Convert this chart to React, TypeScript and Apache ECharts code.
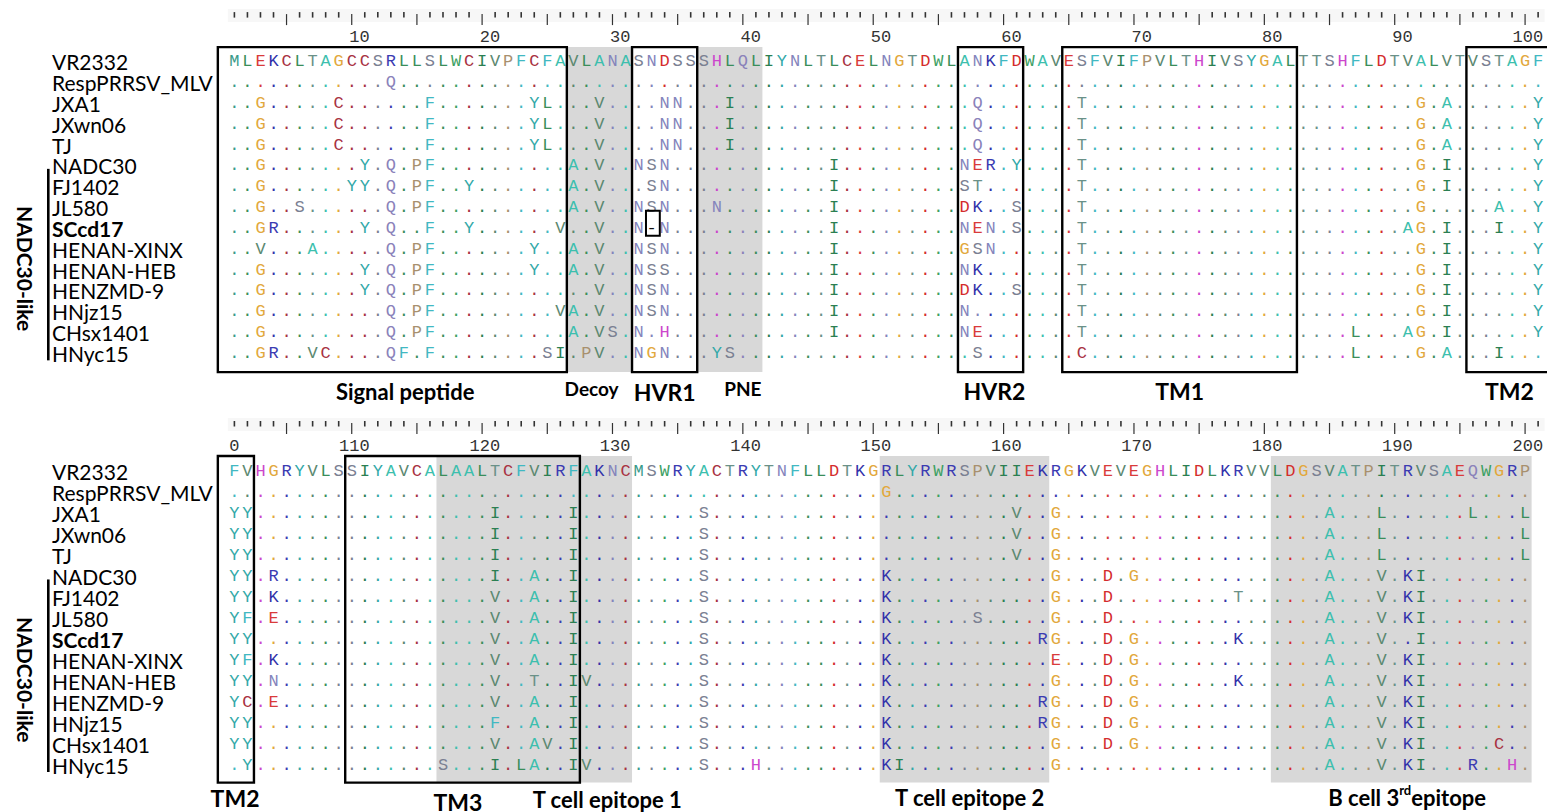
import React, { useEffect, useRef } from "react";
import * as echarts from "echarts";

// ---------------- data ----------------
const strains = [
  "VR2332", "RespPRRSV_MLV", "JXA1", "JXwn06", "TJ", "NADC30", "FJ1402", "JL580",
  "SCcd17", "HENAN-XINX", "HENAN-HEB", "HENZMD-9", "HNjz15", "CHsx1401", "HNyc15",
];
const boldStrains = ["SCcd17"];
const groupFirst = "NADC30";
const groupLast = "HNyc15";
const groupName = "NADC30-like";

// VR2332 GP5 reference, residues 1-200
const reference =
  "MLEKCLTAGCCSRLLSLWCIVPFCFAVLANASNDSSSHLQLIYNLTLCELNGTDWLANKFDWAVESFVIFPVLTHIVSYGALTTSHFLDTVALVTVSTAG" +
  "FVHGRYVLSSIYAVCALAALTCFVIRFAKNCMSWRYACTRYTNFLLDTKGRLYRWRSPVIIEKRGKVEVEGHLIDLKRVVLDGSVATPITRVSAEQWGRP";

// substitutions relative to VR2332 (residue + amino acid), one string per strain
const substitutions = [
  "",
  "13Q 151G",
  "3G 9C 16F 24Y 25L 29V 34N 35N 39I 58Q 66T 92G 94A 101Y 102Y 121I 127I 137S 161V 164G 185A 189L 196L 200L",
  "3G 9C 16F 24Y 25L 29V 34N 35N 39I 58Q 66T 92G 94A 101Y 102Y 121I 127I 137S 161V 164G 185A 189L 200L",
  "3G 9C 16F 24Y 25L 29V 34N 35N 39I 58Q 66T 92G 94A 101Y 102Y 121I 127I 137S 161V 164G 185A 189L 200L",
  "3G 11Y 13Q 15P 16F 27A 29V 32N 33S 34N 47I 57N 58E 59R 61Y 66T 92G 94I 101Y 102Y 104R 121I 124A 127I 137S 151K 164G 168D 170G 185A 189V 191K 192I",
  "3G 10Y 11Y 13Q 15P 16F 19Y 27A 29V 33S 34N 47I 57S 58T 66T 92G 94I 101Y 102Y 104K 121V 124A 127I 137S 151K 164G 168D 178T 185A 189V 191K 192I",
  "3G 6S 13Q 15P 16F 27A 29V 32N 33S 34N 38N 47I 57D 58K 61S 66T 92G 98A 101Y 102F 104E 121V 124A 127I 137S 151K 158S 164G 168D 185A 189V 191K 192I",
  "3G 4R 11Y 13Q 16F 19Y 26V 29V 32N 33- 34N 47I 57N 58E 59N 61S 66T 91A 92G 94I 98I 101Y 102Y 121V 124A 127I 137S 151K 163R 164G 168D 170G 178K 185A 189V 192I",
  "3V 7A 13Q 15P 16F 24Y 27A 29V 32N 33S 34N 47I 57G 58S 59N 66T 92G 94I 101Y 102F 104K 121V 124A 127I 137S 151K 164E 168D 170G 185A 189V 191K 192I",
  "3G 11Y 13Q 15P 16F 24Y 27A 29V 32N 33S 34S 47I 57N 58K 66T 92G 94I 101Y 102Y 104N 121V 124T 127I 128V 137S 151K 164G 168D 170G 178K 185A 189V 191K 192I",
  "3G 11Y 13Q 15P 16F 29V 32N 33S 34N 47I 57D 58K 61S 66T 92G 94I 101Y 102C 104E 121V 124A 127I 137S 151K 163R 164G 168D 170G 185A 189V 191K 192I",
  "3G 13Q 15P 16F 26V 27A 29V 32N 33S 34N 47I 57N 66T 92G 94I 101Y 102Y 121F 124A 127I 137S 151K 163R 164G 168D 170G 185A 189V 191K 192I",
  "3G 13Q 15P 16F 27A 29V 30S 32N 34H 47I 57N 58E 66T 87L 91A 92G 94I 101Y 102Y 121V 124A 125V 127I 137S 151K 164G 168D 170G 185A 189V 191K 192I 198C",
  "3G 4R 7V 8C 13Q 14F 16F 25S 26I 28P 29V 32N 33G 34N 38Y 39S 58S 66C 87L 92G 94A 98I 102Y 117S 121I 123L 124A 127I 128V 137S 141H 151K 152I 164G 185A 189V 191K 192I 196R 199H",
];

// annotated regions (residue ranges)
const regionNames = ["Signal peptide", "Decoy", "HVR1", "PNE", "HVR2", "TM1", "TM2", "TM3", "T cell epitope 1", "T cell epitope 2", "B cell 3rd epitope"];
const regionStart = [1, 27, 32, 37, 57, 65, 96, 110, 117, 151, 181];
const regionEnd = [26, 31, 36, 41, 61, 82, 102, 127, 131, 163, 200];
const regionKind = ["box", "shade", "box", "shade", "box", "box", "box", "box", "shade", "shade", "shade"];

// ruler tick labels
const topRulerLabels = [10, 20, 30, 40, 50, 60, 70, 80, 90, 100];
const bottomRulerLabels = [100, 110, 120, 130, 140, 150, 160, 170, 180, 190, 200];

// ---------------- styles / layout ----------------
const AA_COLORS: Record<string, string> = {
  A: "#3dbfae", R: "#3b3bb2", N: "#8484bc", D: "#d42c2c", C: "#a83242",
  Q: "#8a82ba", E: "#d93b3b", G: "#e2a83c", H: "#cc46cc", I: "#2b7f52",
  L: "#3a8e5a", K: "#3232aa", M: "#3a9a8a", F: "#42b8c2", P: "#a8906e",
  S: "#7a8092", T: "#6a9188", W: "#3ca062", Y: "#32a8a8", V: "#5b8870",
  "-": "#111111",
};
const SEQ_FONT = "Liberation Mono";
const SEQ_SIZE = 17;
const LABEL_FONT = "Lato";

const panels = [
  { offset: 0, firstCol: 1, lastCol: 101, gridTop: 47.1, gridHeight: 325, yMin: -0.7, yMax: 14.9,
    labelAt: { "Signal peptide": 14.1, Decoy: 28.4, HVR1: 34.0, PNE: 40.0, HVR2: 59.3, TM1: 73.5, TM2: 98.8 } as Record<string, number>,
    labelDy: { "Signal peptide": 19, Decoy: 16, HVR1: 20, PNE: 16, HVR2: 19, TM1: 19, TM2: 19 } as Record<string, number>,
    labelSize: { "Signal peptide": 22, Decoy: 19, HVR1: 23, PNE: 19, HVR2: 23, TM1: 23, TM2: 23 } as Record<string, number>,
  },
  { offset: 100, firstCol: 1, lastCol: 101, gridTop: 456, gridHeight: 326.6, yMin: -0.75, yMax: 14.84,
    labelAt: { TM2: 1.05, TM3: 18.15, "T cell epitope 1": 29.6, "T cell epitope 2": 57.4, "B cell 3rd epitope": 90.95 } as Record<string, number>,
    labelDy: { TM2: 15.5, TM3: 19.5, "T cell epitope 1": 16.5, "T cell epitope 2": 14.5, "B cell 3rd epitope": 14.5 } as Record<string, number>,
    labelSize: { TM2: 23, TM3: 23, "T cell epitope 1": 22, "T cell epitope 2": 22, "B cell 3rd epitope": 22 } as Record<string, number>,
  },
];
const GRID_LEFT = 214.84;
const GRID_WIDTH = 1329.8;
const X_MIN = -0.5;
const X_MAX = 101.5;

function parseSubs(s: string): Map<number, string> {
  const m = new Map<number, string>();
  s.split(" ").filter(Boolean).forEach((tok) => {
    const r = /^(\d+)(.)$/.exec(tok);
    if (r) m.set(Number(r[1]), r[2]);
  });
  return m;
}

type Cell = { col: number; row: number; ch: string; color: string };

function buildCells(offset: number, firstCol: number, lastCol: number): Cell[] {
  const maps = substitutions.map(parseSubs);
  const cells: Cell[] = [];
  for (let col = firstCol; col <= lastCol; col++) {
    const res = offset + col;
    if (res < 1 || res > reference.length) continue;
    const refCh = reference[res - 1];
    for (let row = 0; row < strains.length; row++) {
      const ch = row === 0 ? refCh : maps[row].get(res) ?? ".";
      const key = ch === "." ? refCh : ch;
      cells.push({ col, row, ch, color: AA_COLORS[key] ?? "#000" });
    }
  }
  return cells;
}

function buildOption() {
  const grid: any[] = [];
  const xAxis: any[] = [];
  const yAxis: any[] = [];
  const series: any[] = [];

  panels.forEach((p, gi) => {
    grid.push({ left: GRID_LEFT, top: p.gridTop, width: GRID_WIDTH, height: p.gridHeight, containLabel: false });
    xAxis.push({ gridIndex: gi, type: "value", min: X_MIN, max: X_MAX, show: false });
    yAxis.push({ gridIndex: gi, type: "value", min: p.yMin, max: p.yMax, inverse: true, show: false });

    const base = { type: "custom", coordinateSystem: "cartesian2d", xAxisIndex: gi, yAxisIndex: gi, clip: false, silent: true, encode: { x: 0, y: 1 } };
    const panelFirstRes = p.offset + p.firstCol;
    const panelLastRes = p.offset + p.lastCol;

    const regs = regionNames
      .map((name, i) => ({ name, s: regionStart[i], e: regionEnd[i], kind: regionKind[i] }))
      .filter((r) => r.e >= panelFirstRes && r.s <= Math.min(panelLastRes, reference.length));

    const regEdges = regs.map((r) => {
      const c0 = r.s - p.offset;
      const c1 = r.e - p.offset;
      const x0 = r.s < panelFirstRes || (r.kind === "box" && c0 <= p.firstCol) ? p.firstCol - 1.27 : c0 - 0.5;
      const x1 = c1 + 0.5;
      return { ...r, x0, x1 };
    });

    // ruler background
    series.push({
      ...base, z: 1, data: [[p.firstCol - 0.5, 0, p.lastCol + 0.5]],
      renderItem: (params: any, api: any) => {
        const cs = params.coordSys;
        const a = api.coord([api.value(0), 0])[0];
        const b = api.coord([api.value(2), 0])[0];
        return { type: "rect", shape: { x: a, y: cs.y - 38, width: b - a, height: 13 }, style: { fill: "#f7f7f7" } };
      },
    });

    // shaded regions
    const shades = regEdges.filter((r) => r.kind === "shade");
    series.push({
      ...base, z: 2, data: shades.map((r) => [r.x0, 0, r.x1]),
      renderItem: (params: any, api: any) => {
        const cs = params.coordSys;
        const a = api.coord([api.value(0), 0])[0];
        const b = api.coord([api.value(2), 0])[0];
        return { type: "rect", shape: { x: a, y: cs.y, width: b - a, height: cs.height }, style: { fill: "#d8d8d8" } };
      },
    });

    // ruler ticks and labels
    const labels = gi === 0 ? topRulerLabels : bottomRulerLabels;
    const tickItems: number[][] = [];
    for (let c = p.firstCol; c <= p.lastCol; c++) tickItems.push([c, 0, 1]);
    labels.forEach((lab) => { const c = lab - p.offset; if (c < p.firstCol) tickItems.push([c, 0, 0]); });
    const charW = 0.6 * 17;
    series.push({
      ...base, z: 3, data: tickItems,
      renderItem: (params: any, api: any) => {
        const cs = params.coordSys;
        const c = api.value(0);
        const withTick = api.value(2) === 1;
        const x = api.coord([c, 0])[0];
        const res = c + p.offset;
        const children: any[] = [];
        if (withTick) {
          const major = res % 5 === 0;
          children.push({
            type: "line",
            shape: major ? { x1: x, y1: cs.y - 33, x2: x, y2: cs.y - 22 } : { x1: x, y1: cs.y - 35, x2: x, y2: cs.y - 29.5 },
            style: { stroke: "#333", lineWidth: major ? 1.2 : 1.6 },
          });
        }
        if (labels.indexOf(res) >= 0) {
          let txt = String(res);
          const right = x + 18;
          const rulerLeft = api.coord([p.firstCol - 0.5, 0])[0];
          while (txt.length > 0 && right - txt.length * charW < rulerLeft - 2) txt = txt.slice(1);
          children.push({
            type: "text", x: right, y: cs.y - 9.5,
            style: { text: txt, fill: "#333", fontSize: 17, fontFamily: SEQ_FONT, align: "right", verticalAlign: "middle" },
          });
        }
        return { type: "group", children };
      },
    });

    // residues
    const cells = buildCells(p.offset, p.firstCol, p.lastCol);
    series.push({
      ...base, z: 4, data: cells.map((c) => [c.col, c.row]),
      renderItem: (params: any, api: any) => {
        const cell = cells[params.dataIndex];
        const pt = api.coord([api.value(0), api.value(1)]);
        return {
          type: "text", x: pt[0], y: pt[1],
          style: { text: cell.ch, fill: cell.color, fontSize: SEQ_SIZE, fontFamily: SEQ_FONT, align: "center", verticalAlign: "middle" },
        };
      },
    });

    // boxes
    const boxes = regEdges.filter((r) => r.kind === "box");
    series.push({
      ...base, z: 5, data: boxes.map((r) => [r.x0, 0, r.x1]),
      renderItem: (params: any, api: any) => {
        const cs = params.coordSys;
        const a = api.coord([api.value(0), 0])[0];
        const b = api.coord([api.value(2), 0])[0];
        return { type: "rect", shape: { x: a, y: cs.y, width: b - a, height: cs.height }, style: { fill: "none", stroke: "#000", lineWidth: 2.4 } };
      },
    });

    // gap marker box (SCcd17 deletion)
    if (gi === 0) {
      const gapMarks = cells.filter((c) => c.ch === "-");
      series.push({
        ...base, z: 5, data: gapMarks.map((c) => [c.col, c.row]),
        renderItem: (params: any, api: any) => {
          const a = api.coord([api.value(0) - 0.43, api.value(1) - 0.85]);
          const b = api.coord([api.value(0) + 0.63, api.value(1) + 0.35]);
          return { type: "rect", shape: { x: a[0], y: a[1], width: b[0] - a[0], height: b[1] - a[1] }, style: { fill: "none", stroke: "#000", lineWidth: 2 } };
        },
      });
    }

    // region labels
    const labelRegs = regEdges.filter((r) => p.labelAt[r.name] !== undefined);
    series.push({
      ...base, z: 6, data: labelRegs.map((r) => [p.labelAt[r.name], 0]),
      renderItem: (params: any, api: any) => {
        const cs = params.coordSys;
        const r = labelRegs[params.dataIndex];
        const x = api.coord([api.value(0), 0])[0];
        const y = cs.y + cs.height + p.labelDy[r.name];
        const size = p.labelSize[r.name];
        const m = /^(.*\d)(rd|st|nd|th) (.*)$/.exec(r.name);
        const style: any = { fill: "#000", fontSize: size, fontFamily: LABEL_FONT, fontWeight: "bold", align: "center", verticalAlign: "middle" };
        if (m) {
          style.text = `{a|${m[1]}}{s|${m[2]}}{a|${m[3]}}`;
          style.rich = {
            a: { fontSize: size, fontFamily: LABEL_FONT, fontWeight: "bold", fill: "#000", lineHeight: size * 1.2 },
            s: { fontSize: Math.round(size * 0.6), fontFamily: LABEL_FONT, fontWeight: "bold", fill: "#000", verticalAlign: "top", lineHeight: size * 1.2 },
          };
        } else {
          style.text = r.name;
        }
        return { type: "text", x, y, style };
      },
    });

    // strain names
    series.push({
      ...base, z: 6, data: strains.map((_, i) => [0, i]),
      renderItem: (params: any, api: any) => {
        const name = strains[params.dataIndex];
        const y = api.coord([0, api.value(1)])[1];
        return {
          type: "text", x: 52, y,
          style: { text: name, fill: "#000", fontSize: 21, fontFamily: LABEL_FONT, fontWeight: boldStrains.includes(name) ? "bold" : "normal", align: "left", verticalAlign: "middle" },
        };
      },
    });

    // group bracket
    const g0 = strains.indexOf(groupFirst);
    const g1 = strains.indexOf(groupLast);
    series.push({
      ...base, z: 6, data: [[0, g0, g1]],
      renderItem: (params: any, api: any) => {
        const ya = api.coord([0, api.value(1)])[1] + 3;
        const yb = api.coord([0, api.value(2)])[1] + 7;
        return {
          type: "group",
          children: [
            { type: "rect", shape: { x: 47, y: ya, width: 2.6, height: yb - ya }, style: { fill: "#000" } },
            { type: "text", x: 25, y: (ya + yb) / 2 + 4, rotation: -Math.PI / 2,
              style: { text: groupName, fill: "#000", fontSize: 21, fontFamily: LABEL_FONT, fontWeight: "bold", align: "center", verticalAlign: "middle" } },
          ],
        };
      },
    });
  });

  return { animation: false, backgroundColor: "#ffffff", grid, xAxis, yAxis, series };
}

export default function App() {
  const ref = useRef<HTMLDivElement>(null);
  useEffect(() => {
    if (!ref.current) return;
    const chart = echarts.init(ref.current, undefined, { renderer: "svg" });
    chart.setOption(buildOption() as any);
    return () => chart.dispose();
  }, []);
  return <div ref={ref} style={{ position: "absolute", left: 0, top: 0, width: 1547, height: 812, background: "#fff" }} />;
}
